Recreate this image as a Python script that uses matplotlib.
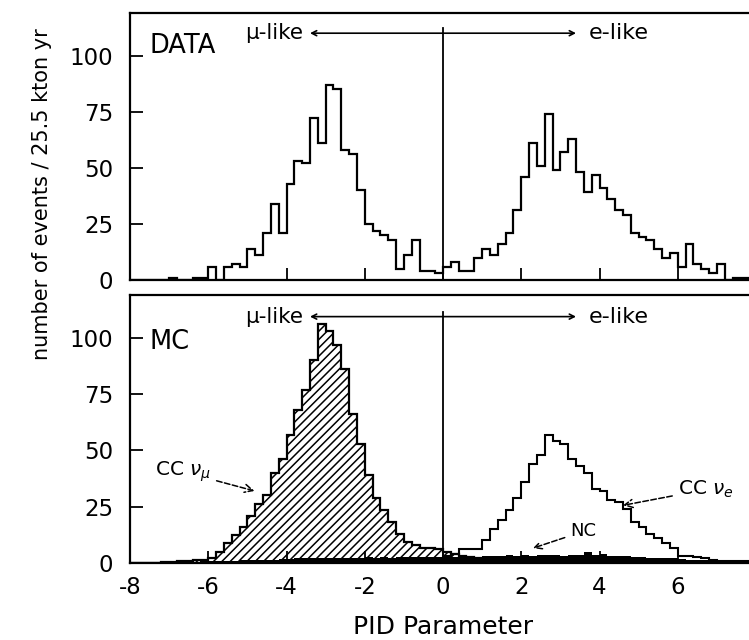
import numpy as np
import matplotlib.pyplot as plt

plt.rcParams['hatch.linewidth'] = 1.1
plt.rcParams['axes.unicode_minus'] = False

# bin edges: 0.2-wide bins over the PID parameter range
edges = np.linspace(-8, 8, 81)

# DATA counts per bin (left half then right half)
data_mu = [0, 0, 0, 0, 0, 1, 0, 0, 1, 1, 6, 0, 6, 7, 6, 14, 11, 21, 34, 21,
           43, 53, 52, 72, 61, 87, 85, 58, 56, 40, 25, 22, 20, 18, 5, 11, 18, 4, 4, 3]
data_e = [6, 8, 4, 4, 10, 14, 11, 16, 21, 31, 46, 61, 51, 74, 49, 57, 63, 48, 39, 47,
          41, 36, 31, 29, 21, 19, 18, 14, 10, 12, 6, 16, 7, 5, 3, 7, 0, 1, 1, 0]
data_all = data_mu + data_e

# MC components
mc_numu = [0, 0, 0, 0, 0.5, 0.5, 1, 1, 1.5, 1.5, 2.2, 5, 9, 12.5, 16, 21, 26, 30, 40, 46,
           57, 68, 77, 90, 106, 103, 97, 86, 66, 53, 39, 29, 23.5, 18, 13, 9.5, 8, 6.5, 6.5, 6,
           5, 4, 3, 2.5, 2, 1.5, 1.2, 1, 0.8, 0.6, 0.5, 0.4, 0.3, 0.3, 0.2, 0, 0, 0, 0, 0,
           0, 0, 0, 0, 0, 0, 0, 0, 0, 0, 0, 0, 0, 0, 0, 0, 0, 0, 0, 0]
mc_nue = [0] * 40 + [3, 4, 6, 6, 6, 10, 15, 19, 23.5, 29, 36, 44, 48, 57, 54, 53, 46, 43, 40, 33,
                     32, 28, 27, 24, 18, 16, 13, 11, 9, 6.6, 3, 3, 2.6, 2, 1.5, 1, 1, 1, 1, 1]
mc_nc = [0, 0, 0, 0, 0.3, 0.3, 0.5, 0.5, 0.5, 0.8, 0.8, 1, 1, 1, 1.2, 1.2, 1.5, 1.5, 1.5, 1.8,
         1.8, 2, 2, 2, 2, 2, 2.2, 2, 2.3, 2.2, 2.5, 2.3, 2.5, 2.4, 2.6, 2.5, 2.7, 2.6, 2.8, 2.7,
         2.5, 2.8, 2.6, 3, 2.8, 3, 3.2, 3, 3.4, 3.2, 3.5, 3.2, 3.6, 3.4, 3.5, 3.3, 3.6, 3.4, 4.8, 3.6,
         4, 3.3, 3, 3.2, 2.8, 2.6, 2.4, 2.2, 2, 2, 1.8, 1.5, 1.4, 1.2, 1, 1, 0.8, 0.7, 0.5, 0.5]

yticks = [0, 25, 50, 75, 100]
xticks = [-8, -6, -4, -2, 0, 2, 4, 6]

fig = plt.figure(figsize=(7.49, 6.40), dpi=100)
W, H = 749, 640
x0, x1 = 130, 756
ax_top = fig.add_axes([x0 / W, 1 - 280 / H, (x1 - x0) / W, 267 / H])
ax_bot = fig.add_axes([x0 / W, 1 - 563 / H, (x1 - x0) / W, 268 / H])

for ax in (ax_top, ax_bot):
    ax.set_xlim(-8, 8)
    ax.set_ylim(0, 119)
    ax.set_xticks(xticks)
    ax.set_yticks(yticks)
    ax.tick_params(direction='in', length=9, width=1.3, labelsize=16.5)
    ax.tick_params(axis='y', pad=12)
    ax.tick_params(axis='x', pad=9)
    for s in ax.spines.values():
        s.set_linewidth(1.6)

ax_top.tick_params(axis='x', labelbottom=False)

# top panel: data
ax_top.stairs(data_all, edges, color='black', lw=1.6)
ax_top.plot([0, 0], [0, 112.5], color='black', lw=1.3)
ax_top.annotate('', xy=(-3.47, 110), xytext=(3.47, 110),
                arrowprops=dict(arrowstyle='<->,head_length=0.35,head_width=0.18', lw=1.2, color='black'))
ax_top.text(-3.58, 110, 'μ-like', ha='right', va='center', fontsize=15.5)
ax_top.text(3.72, 110, 'e-like', ha='left', va='center', fontsize=16)
ax_top.text(-7.5, 104.5, 'DATA', ha='left', va='center', fontsize=18.5)

# bottom panel: MC
ax_bot.stairs(mc_numu, edges, fill=True, facecolor='white', edgecolor='black', hatch='////', lw=0)
ax_bot.stairs(mc_numu, edges, color='black', lw=1.6)
ax_bot.stairs(mc_nue, edges, color='black', lw=1.5)
ax_bot.stairs(mc_nc, edges, fill=True, color='black')
ax_bot.plot([0, 0], [0, 111.6], color='black', lw=1.3)
ax_bot.annotate('', xy=(-3.47, 109.4), xytext=(3.47, 109.4),
                arrowprops=dict(arrowstyle='<->,head_length=0.35,head_width=0.18', lw=1.2, color='black'))
ax_bot.text(-3.58, 109.4, 'μ-like', ha='right', va='center', fontsize=15.5)
ax_bot.text(3.72, 109.4, 'e-like', ha='left', va='center', fontsize=16)
ax_bot.text(-7.5, 98, 'MC', ha='left', va='center', fontsize=18.5)

ax_bot.annotate(r'CC $\nu_\mu$', xy=(-4.82, 32), xytext=(-7.36, 40.5), fontsize=14.5,
                va='center', ha='left',
                arrowprops=dict(arrowstyle='->', ls='--', lw=1.1, color='black', shrinkA=2, shrinkB=0))
ax_bot.annotate(r'CC $\nu_e$', xy=(4.6, 25.6), xytext=(6.0, 32.6), fontsize=14.5,
                va='center', ha='left',
                arrowprops=dict(arrowstyle='->', ls='--', lw=1.1, color='black', shrinkA=2, shrinkB=0))
ax_bot.annotate('NC', xy=(2.3, 6.6), xytext=(3.25, 14), fontsize=13,
                va='center', ha='left',
                arrowprops=dict(arrowstyle='->', ls='--', lw=1.1, color='black', shrinkA=2, shrinkB=0))

ax_bot.set_xlabel('PID Parameter', fontsize=18, labelpad=12)
fig.text(42 / W, 1 - 194 / H, 'number of events / 25.5 kton yr', rotation=90,
         ha='center', va='center', fontsize=15)

fig.savefig('out.png', dpi=100)
